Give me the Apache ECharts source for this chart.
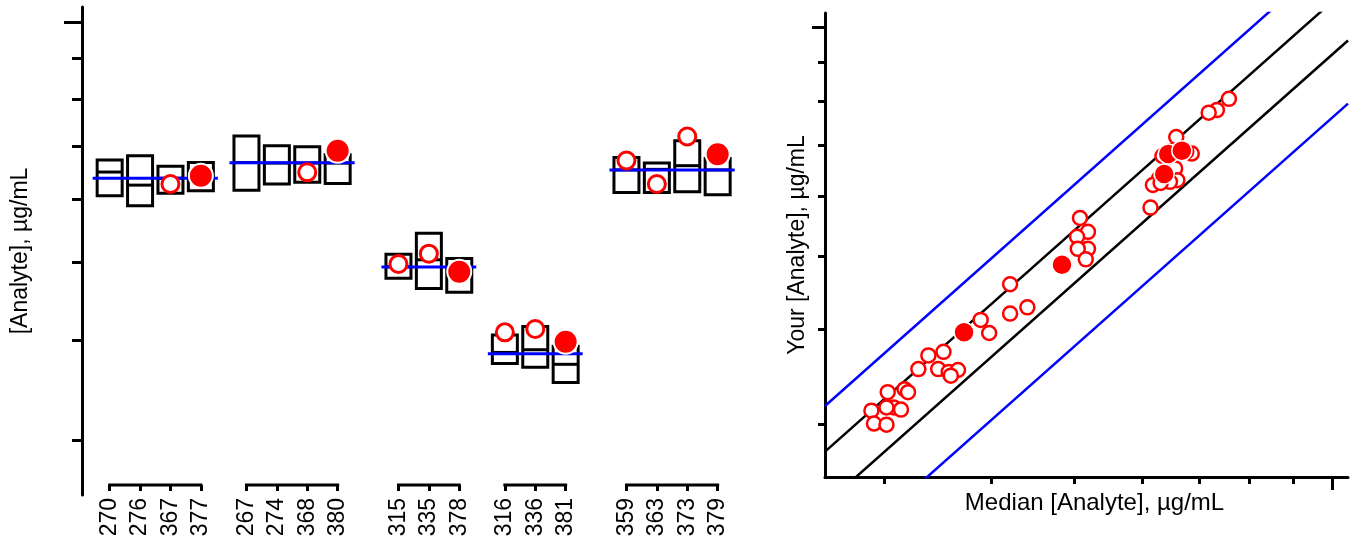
<!DOCTYPE html>
<html><head><meta charset="utf-8">
<script src="https://cdn.jsdelivr.net/npm/echarts@6/dist/echarts.min.js"></script>
<style>html,body{margin:0;padding:0;background:#fff}#c{width:1357px;height:544px}</style>
</head><body><div id="c"></div>
<script>
// ---------------- data ----------------
const groupLabs = [
  ['270', '276', '367', '377'],
  ['267', '274', '368', '380'],
  ['315', '335', '378'],
  ['316', '336', '381'],
  ['359', '363', '373', '379']
];
const groupMedian = [63.75, 66.67, 49.38, 38.44, 65.28];
// per lab (in the order of groupLabs, flattened)
const boxHigh   = [67.2, 68.0, 66.0, 66.7,   72.0, 70.0, 69.8, 68.2,   51.2, 54.4, 50.6,   40.6, 41.6, 39.3,   67.7, 66.6, 71.0, 67.5];
const boxMid    = [64.9, 62.5, 63.75, 64.2,  66.7, 66.6, 66.6, 66.6,   49.4, 50.4, 49.0,   38.6, 38.9, 37.3,   65.3, 65.4, 66.1, 65.3];
const boxLow    = [60.6, 58.9, 61.05, 61.5,  61.6, 62.7, 63.0, 62.8,   47.8, 46.4, 45.9,   37.4, 37.0, 35.4,   61.2, 61.2, 61.3, 60.8];
const labOpen   = [null, null, 62.7, null,   null, null, 64.85, null,  49.8, 51.3, null,   40.9, 41.3, null,   67.1, 62.7, 71.9, null];
const labFilled = [null, null, null, 64.2,   null, null, null, 69.0,   null, null, 48.7,   null, null, 39.8,   null, null, null, 68.3];

// right panel: median (x) vs your value (y)
const medOpenX = [75.8, 73.4, 71.8, 65.8, 63.4, 64.7, 68.6, 67.6, 65.6, 66.0, 62.8, 61.8, 64.7, 63.1, 61.4,
                  50.8, 51.9, 50.4, 51.9, 50.5, 51.6, 42.1, 42.1, 44.1, 38.9, 39.8,
                  33.8, 35.2, 32.9, 34.7, 35.7, 36.6, 35.9, 30.3, 31.7, 32.0, 30.8, 30.2, 31.4, 29.0, 29.2, 30.2];
const yourOpenY = [80.5, 77.8, 77.2, 71.7, 67.7, 68.6, 68.2, 68.6, 65.2, 62.9, 63.2, 62.0, 62.6, 62.4, 57.9,
                   56.1, 53.8, 53.0, 51.1, 51.1, 49.5, 45.9, 42.0, 42.8, 41.2, 39.6,
                   37.0, 37.4, 35.5, 35.5, 35.2, 35.4, 34.8, 33.1, 33.4, 33.1, 31.6, 31.6, 31.4, 31.3, 30.1, 30.0];
const medFilledX  = [63.7, 64.4, 66.8, 48.4, 37.2];
const yourFilledY = [64.1, 68.1, 68.8, 48.7, 39.7];

// reference lines (your = factor x median)
const innerFactors = [0.92, 1.08];
const outerFactors = [0.76, 1.24];

// axis range and tick values
const axisRange = [25.6, 104.4];
const minorTicks = [30, 40, 50, 60, 70, 80, 90];
const majorTicks = [100];

const yTitleLeft = '[Analyte], µg/mL';
const yTitleRight = 'Your [Analyte], µg/mL';
const xTitleRight = 'Median [Analyte], µg/mL';

// ---------------- layout ----------------
const FONT = "'Liberation Sans', Arial, Helvetica, sans-serif";
const GROUP_GAP = [0, 3, 4, 3, 4];   // spacing units between groups
const labPos = [], labNames = [], groupFirst = [], groupLast = [];
(function () {
  let u = 0;
  groupLabs.forEach((g, gi) => {
    if (gi > 0) u += GROUP_GAP[gi];
    g.forEach((name, j) => {
      if (j > 0) u += 2;
      if (j === 0) groupFirst.push(u);
      labPos.push(u); labNames.push(name);
    });
    groupLast.push(u);
  });
})();

const BLACK = '#000000', RED = '#ff0000', BLUE = '#0000ff';

function boxRender(params, api) {
  const x = api.value(0);
  const pT = api.coord([x, api.value(1)]);
  const pM = api.coord([x, api.value(2)]);
  const pB = api.coord([x, api.value(3)]);
  const hw = 12.5;
  return {
    type: 'group',
    children: [
      { type: 'rect', shape: { x: pT[0] - hw, y: pT[1], width: 2 * hw, height: pB[1] - pT[1] },
        style: { fill: 'none', stroke: BLACK, lineWidth: 3 } },
      { type: 'line', shape: { x1: pM[0] - hw, y1: pM[1], x2: pM[0] + hw, y2: pM[1] },
        style: { stroke: BLACK, lineWidth: 3 } }
    ]
  };
}
function medianRender(params, api) {
  const a = api.coord([api.value(0), api.value(2)]);
  const b = api.coord([api.value(1), api.value(2)]);
  const ext = 17;
  return { type: 'line', shape: { x1: a[0] - ext, y1: a[1], x2: b[0] + ext, y2: b[1] },
           style: { stroke: BLUE, lineWidth: 3 } };
}
function bracketRender(params, api) {
  const cs = params.coordSys;
  const y = cs.y + cs.height - 10;
  const a = api.coord([api.value(0), api.value(2)]);
  const b = api.coord([api.value(1), api.value(2)]);
  return { type: 'line', shape: { x1: a[0] - 1.5, y1: y, x2: b[0] + 1.5, y2: y },
           style: { stroke: BLACK, lineWidth: 3 } };
}

function refLine(f, color) {
  return {
    type: 'line', xAxisIndex: 1, yAxisIndex: 2, symbol: 'none', silent: true, clip: true,
    lineStyle: { color: color, width: 2.5 }, z: 2,
    data: [[axisRange[0], axisRange[0] * f], [axisRange[1], axisRange[1] * f]]
  };
}

const nameStyle = { fontSize: 23, color: BLACK, fontFamily: FONT };
const tickStyle = { color: BLACK, width: 3 };
const noZero = { onZero: false };

const option = {
  animation: false,
  backgroundColor: '#ffffff',
  textStyle: { fontFamily: FONT },
  grid: [
    { left: 82, right: 617, top: 7, bottom: 49 },
    { left: 825, right: 9, top: 13, bottom: 67 }
  ],
  xAxis: [
    { gridIndex: 0, type: 'value', position: 'bottom', min: -1.82, max: 41.47, offset: -10,
      axisLine: { show: false, onZero: false }, splitLine: { show: false },
      axisTick: { show: true, customValues: labPos, length: 6, lineStyle: tickStyle },
      axisLabel: { show: true, customValues: labPos, rotate: 90, margin: 13, fontSize: 23, color: BLACK,
                   fontFamily: FONT, formatter: v => labNames[labPos.indexOf(Math.round(v))] || '' } },
    { gridIndex: 1, type: 'log', logBase: 10, position: 'bottom', min: axisRange[0], max: axisRange[1],
      axisLine: { show: true, onZero: false, lineStyle: { color: BLACK, width: 3 } }, splitLine: { show: false },
      axisTick: { show: true, customValues: minorTicks, length: 7, lineStyle: tickStyle },
      axisLabel: { show: false },
      name: xTitleRight, nameLocation: 'middle', nameGap: 14,
      nameTextStyle: { fontSize: 24, color: BLACK, fontFamily: FONT, padding: [0, 0, 0, 16], verticalAlign: 'top' } },
    { gridIndex: 1, type: 'log', logBase: 10, position: 'bottom', min: axisRange[0], max: axisRange[1],
      axisLine: { show: false, onZero: false }, splitLine: { show: false },
      axisTick: { show: true, customValues: majorTicks, length: 13, lineStyle: tickStyle },
      axisLabel: { show: false } }
  ],
  yAxis: [
    { gridIndex: 0, type: 'log', logBase: 10, position: 'left', min: axisRange[0], max: axisRange[1],
      axisLine: { show: true, onZero: false, lineStyle: { color: BLACK, width: 3 } }, splitLine: { show: false },
      axisTick: { show: true, customValues: minorTicks, length: 10, lineStyle: tickStyle },
      axisLabel: { show: false },
      name: yTitleLeft, nameLocation: 'middle', nameGap: 50, nameTextStyle: nameStyle },
    { gridIndex: 0, type: 'log', logBase: 10, position: 'left', min: axisRange[0], max: axisRange[1],
      axisLine: { show: false, onZero: false }, splitLine: { show: false },
      axisTick: { show: true, customValues: majorTicks, length: 18, lineStyle: tickStyle },
      axisLabel: { show: false } },
    { gridIndex: 1, type: 'log', logBase: 10, position: 'left', min: axisRange[0], max: axisRange[1],
      axisLine: { show: true, onZero: false, lineStyle: { color: BLACK, width: 3 } }, splitLine: { show: false },
      axisTick: { show: true, customValues: minorTicks, length: 7, lineStyle: tickStyle },
      axisLabel: { show: false },
      name: yTitleRight, nameLocation: 'middle', nameGap: 16, nameTextStyle: nameStyle },
    { gridIndex: 1, type: 'log', logBase: 10, position: 'left', min: axisRange[0], max: axisRange[1],
      axisLine: { show: false, onZero: false }, splitLine: { show: false },
      axisTick: { show: true, customValues: majorTicks, length: 13, lineStyle: tickStyle },
      axisLabel: { show: false } }
  ],
  series: [
    { type: 'custom', name: 'range', xAxisIndex: 0, yAxisIndex: 0, renderItem: boxRender, z: 2, silent: true,
      encode: { x: 0, y: [1, 2, 3] },
      data: labPos.map((p, i) => [p, boxHigh[i], boxMid[i], boxLow[i]]) },
    { type: 'custom', name: 'median', xAxisIndex: 0, yAxisIndex: 0, renderItem: medianRender, z: 3, silent: true,
      encode: { x: [0, 1], y: 2 },
      data: groupMedian.map((m, g) => [groupFirst[g], groupLast[g], m]) },
    { type: 'custom', name: 'bracket', xAxisIndex: 0, yAxisIndex: 0, renderItem: bracketRender, z: 3, silent: true,
      encode: { x: [0, 1], y: 2 },
      data: groupMedian.map((m, g) => [groupFirst[g], groupLast[g], m]) },
    { type: 'scatter', name: 'lab', xAxisIndex: 0, yAxisIndex: 0, symbol: 'circle', symbolSize: 17, z: 4,
      itemStyle: { color: '#ffffff', borderColor: RED, borderWidth: 3, opacity: 1 },
      data: labPos.map((p, i) => [p, labOpen[i]]).filter(d => d[1] != null) },
    { type: 'scatter', name: 'your lab', xAxisIndex: 0, yAxisIndex: 0, symbol: 'circle', symbolSize: 24, z: 5,
      itemStyle: { color: RED, borderColor: '#ffffff', borderWidth: 2, opacity: 1 },
      data: labPos.map((p, i) => [p, labFilled[i]]).filter(d => d[1] != null) },
    refLine(outerFactors[0], BLUE), refLine(outerFactors[1], BLUE),
    refLine(innerFactors[0], BLACK), refLine(innerFactors[1], BLACK),
    { type: 'scatter', name: 'other', xAxisIndex: 1, yAxisIndex: 2, symbol: 'circle', symbolSize: 14, z: 4,
      itemStyle: { color: '#ffffff', borderColor: RED, borderWidth: 2.5, opacity: 1 },
      data: medOpenX.map((x, i) => [x, yourOpenY[i]]) },
    { type: 'scatter', name: 'yours', xAxisIndex: 1, yAxisIndex: 2, symbol: 'circle', symbolSize: 20, z: 5,
      itemStyle: { color: RED, borderColor: '#ffffff', borderWidth: 1.5, opacity: 1 },
      data: medFilledX.map((x, i) => [x, yourFilledY[i]]) }
  ]
};
const chart = echarts.init(document.getElementById('c'));
chart.setOption(option);
</script>
</body></html>
